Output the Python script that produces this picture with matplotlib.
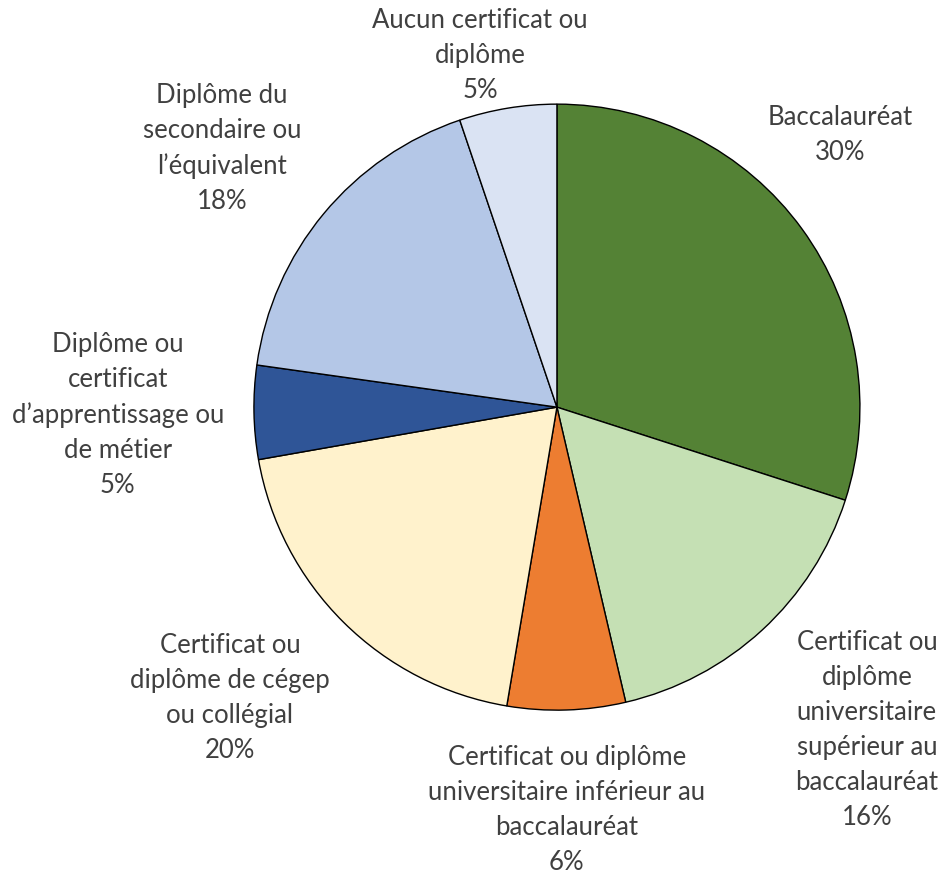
import matplotlib
matplotlib.use("Agg")
import matplotlib.pyplot as plt

categories = [
    "Baccalauréat",
    "Certificat ou\ndiplôme\nuniversitaire\nsupérieur au\nbaccalauréat",
    "Certificat ou diplôme\nuniversitaire inférieur au\nbaccalauréat",
    "Certificat ou\ndiplôme de cégep\nou collégial",
    "Diplôme ou\ncertificat\nd’apprentissage ou\nde métier",
    "Diplôme du\nsecondaire ou\nl’équivalent",
    "Aucun certificat ou\ndiplôme",
]
values = [30.0, 16.4, 6.3, 19.6, 5.0, 17.6, 5.2]
pct_labels = ["30%", "16%", "6%", "20%", "5%", "18%", "5%"]
colors = ["#548235", "#C5E0B4", "#ED7D31", "#FFF2CC", "#2F5597", "#B4C7E7", "#DAE3F3"]

# label centres (in pie-radius units)
label_pos = [(0.934, 0.90), (1.023, -1.063), (0.033, -1.327), (-1.079, -0.957),
             (-1.449, -0.023), (-1.106, 0.858), (-0.254, 1.165)]

fig = plt.figure(figsize=(9.46, 8.79), dpi=100)
ax = fig.add_axes([0, 0, 1, 1])
ax.pie(values, colors=colors, startangle=90, counterclock=False, radius=1.0,
       wedgeprops=dict(edgecolor="black", linewidth=1.0))
ax.set_xlim(-1.838, 1.284)
ax.set_ylim(-1.554, 1.347)
ax.set_aspect("equal")
ax.axis("off")

for cat, pct, (x, y) in zip(categories, pct_labels, label_pos):
    ax.text(x, y, cat + "\n" + pct, ha="center", va="center", fontsize=18.5,
            family=["Lato", "DejaVu Sans"], color="#404040", linespacing=1.5)

fig.savefig("out.png", dpi=100)
